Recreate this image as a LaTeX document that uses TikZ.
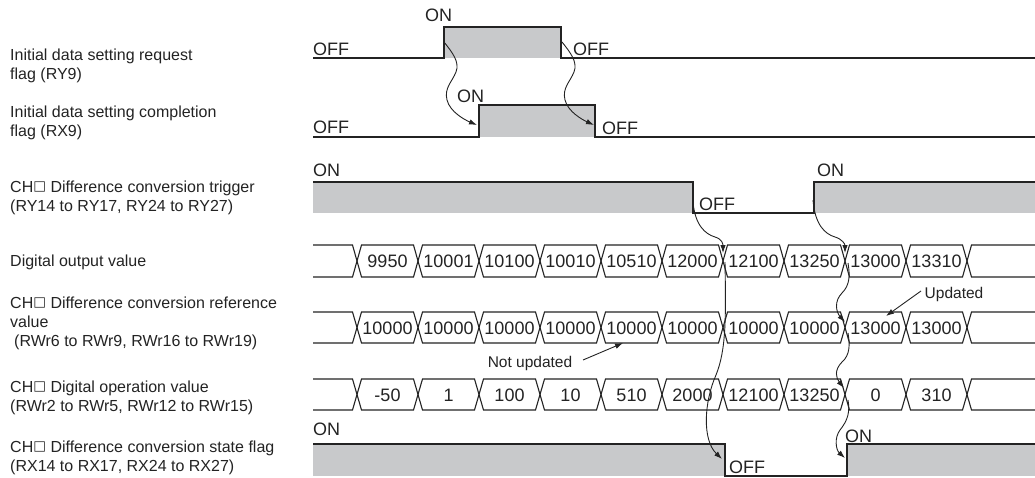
\documentclass[tikz,border=0pt]{standalone}
\usepackage{fontspec}
\setmainfont{Liberation Sans}
\newfontfamily\boxfont{DejaVu Sans}
\usetikzlibrary{arrows.meta}
\definecolor{gfill}{RGB}{200,201,203}
\definecolor{ink}{RGB}{35,35,35}
\newcommand{\chbox}{\raisebox{1.6pt}{\boxfont\fontsize{13.5}{16}\selectfont □}}
\tikzset{
  sig/.style={draw=ink,line width=1.1pt},
  gray area/.style={fill=gfill,draw=none},
  lbl/.style={anchor=base west,inner sep=0pt,text=ink,font=\fontsize{16}{19}\selectfont},
  onoff/.style={anchor=base west,inner sep=0pt,text=ink,font=\fontsize{18}{21}\selectfont},
  val/.style={anchor=base,inner sep=0pt,text=ink,font=\fontsize{18}{21}\selectfont},
  note/.style={anchor=base,inner sep=0pt,text=ink,font=\fontsize{15.5}{18}\selectfont},
  cause/.style={draw=ink,line width=0.9pt,-{Latex[length=8pt,width=5.5pt]}},
}
\newcommand{\busrow}[4]{% #1 name, #2 top, #3 bottom, #4 values
  \pgfmathsetmacro{\rowmid}{(#2+#3)/2}
  \draw[sig] (313,#2) -- (352.5,#2) -- (357,\rowmid) -- (352.5,#3) -- (313,#3);
  \foreach \v [count=\i from 0] in {#4} {
    \pgfmathsetmacro{\ca}{357+61*\i}
    \pgfmathsetmacro{\cb}{357+61*(\i+1)}
    \draw[sig] (\ca,\rowmid) -- (\ca+4.5,#2) -- (\cb-4.5,#2) -- (\cb,\rowmid) -- (\cb-4.5,#3) -- (\ca+4.5,#3) -- cycle;
    \node[val] (#1\i) at ({(\ca+\cb)/2},\rowmid+6.5) {\v};
  }
  \draw[sig] (1035,#2) -- (971.5,#2) -- (967,\rowmid) -- (971.5,#3) -- (1035,#3);
}
\begin{document}
\begin{tikzpicture}[x=1pt,y=-1pt]
\useasboundingbox (0,0) rectangle (1035,477);

% ---------- left labels ----------
\node[lbl] (l1a) at (10,60) {Initial data setting request};
\node[lbl] (l1b) at (10,79) {flag (RY9)};
\node[lbl] (l2a) at (10,117) {Initial data setting completion};
\node[lbl] (l2b) at (10,136) {flag (RX9)};
\node[lbl] (l3a) at (10,192) {CH\chbox\ Difference conversion trigger};
\node[lbl] (l3b) at (10,211) {(RY14 to RY17, RY24 to RY27)};
\node[lbl] (l4a) at (10,266) {Digital output value};
\node[lbl] (l5a) at (10,308) {CH\chbox\ Difference conversion reference};
\node[lbl] (l5b) at (10,327) {value};
\node[lbl] (l5c) at (14,346) {(RWr6 to RWr9, RWr16 to RWr19)};
\node[lbl] (l6a) at (10,392) {CH\chbox\ Digital operation value};
\node[lbl] (l6b) at (10,411) {(RWr2 to RWr5, RWr12 to RWr15)};
\node[lbl] (l7a) at (10,452) {CH\chbox\ Difference conversion state flag};
\node[lbl] (l7b) at (10,471) {(RX14 to RX17, RX24 to RX27)};

% ---------- row 1: RY9 ----------
\fill[gray area] (444,27) rectangle (561,58);
\draw[sig] (313,58) -- (444,58) -- (444,27) -- (561,27) -- (561,58) -- (1035,58);
\node[onoff] (r1off) at (313,55) {OFF};
\node[onoff] (r1on) at (425,21) {ON};
\node[onoff] (r1off2) at (573,55) {OFF};

% ---------- row 2: RX9 ----------
\fill[gray area] (479,105) rectangle (595,137);
\draw[sig] (313,137) -- (479,137) -- (479,105) -- (595,105) -- (595,137) -- (1035,137);
\node[onoff] (r2off) at (313,133) {OFF};
\node[onoff] (r2on) at (457,102) {ON};
\node[onoff] (r2off2) at (602,134) {OFF};

% ---------- row 3: trigger ----------
\fill[gray area] (313,182) rectangle (693,213);
\fill[gray area] (814,182) rectangle (1035,213);
\draw[sig] (313,182) -- (693,182) -- (693,213) -- (814,213) -- (814,182) -- (1035,182);
\node[onoff] (r3on) at (313,176) {ON};
\node[onoff] (r3off) at (699,210) {OFF};
\node[onoff] (r3on2) at (817,176) {ON};

% ---------- bus rows ----------
\busrow{dov}{245}{277}{9950,10001,10100,10010,10510,12000,12100,13250,13000,13310}
\busrow{ref}{312}{343}{10000,10000,10000,10000,10000,10000,10000,10000,13000,13000}
\busrow{opv}{379}{410}{-50,1,100,10,510,2000,12100,13250,0,310}

% ---------- row 7: state flag ----------
\fill[gray area] (313,444) rectangle (725,476);
\fill[gray area] (847,444) rectangle (1035,476);
\draw[sig] (313,444) -- (725,444) -- (725,476) -- (847,476) -- (847,444) -- (1035,444);
\node[onoff] (r7on) at (313,435) {ON};
\node[onoff] (r7off) at (729,473) {OFF};
\node[onoff] (r7on2) at (845,442) {ON};

% ---------- annotations ----------
\node[note] (notupd) at (530,367) {Not updated};
\node[note] (upd) at (954,298) {Updated};
\coordinate (nuS) at (583,360);
\coordinate (nuE) at (623,343);
\coordinate (uS) at (921,291);
\coordinate (uE) at (886,316);
\draw[cause] (nuS) -- (nuE);
\draw[cause] (uS) -- (uE);

% ---------- cause arrows ----------
\coordinate (aS) at (444,42);  \coordinate (aE) at (477,125);
\coordinate (bS) at (562,42);  \coordinate (bE) at (594,125);
\coordinate (cS) at (693,202); \coordinate (cE) at (723,253);
\coordinate (dS) at (725,262); \coordinate (dE) at (722,459);
\coordinate (eS) at (813,200); \coordinate (eE) at (845,253);
\coordinate (fS) at (848,263); \coordinate (fE) at (845,322);
\coordinate (gS) at (848,333); \coordinate (gE) at (844,388);
\coordinate (hS) at (848,400); \coordinate (hE) at (845,458);

\draw[cause] (aS) .. controls (452,52) and (460,62) .. (456,72)
  .. controls (452,82) and (444,88) .. (447,100)
  .. controls (450,112) and (465,120) .. (aE);
\draw[cause] (bS) .. controls (570,52) and (578,62) .. (574,72)
  .. controls (570,82) and (562,88) .. (565,100)
  .. controls (568,112) and (583,120) .. (bE);
\draw[cause] (cS) .. controls (695,225) and (705,234) .. (715,237)
  .. controls (722,239) and (723,244) .. (cE);
\draw[cause] (dS) .. controls (726,320) and (726,350) .. (716,375)
  .. controls (704,402) and (702,440) .. (dE);
\draw[cause] (eS) .. controls (815,225) and (825,234) .. (835,237)
  .. controls (842,239) and (845,244) .. (eE);
\draw[cause] (fS) .. controls (850,275) and (850,285) .. (842,293)
  .. controls (834,301) and (836,312) .. (fE);
\draw[cause] (gS) .. controls (850,345) and (850,355) .. (842,362)
  .. controls (834,370) and (836,378) .. (gE);
\draw[cause] (hS) .. controls (850,412) and (848,420) .. (840,430)
  .. controls (834,438) and (836,450) .. (hE);
\end{tikzpicture}
\end{document}
